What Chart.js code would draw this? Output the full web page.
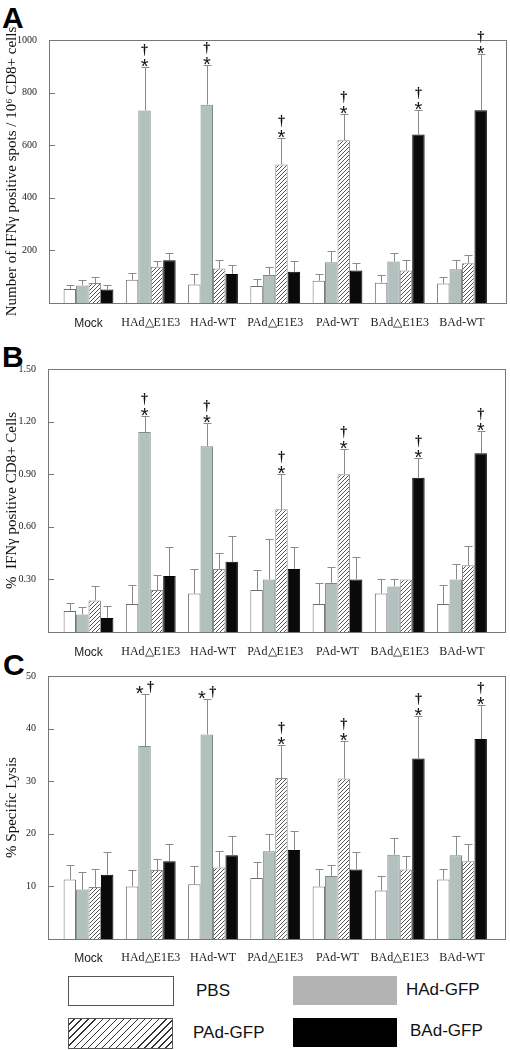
<!DOCTYPE html>
<html>
<head>
<meta charset="utf-8">
<script src="https://cdn.jsdelivr.net/npm/chart.js@4.4.1/dist/chart.umd.min.js"></script>
<style>
  body { margin: 0; width: 510px; height: 1050px; position: relative; background: #fff; overflow: hidden; }
  canvas { position: absolute; left: 0; }
  .letter { position: absolute; font: bold 30px 'Liberation Sans', Arial, sans-serif; line-height: 30px; color: #000; }
  .key { position: absolute; box-sizing: border-box; }
  .keyText { position: absolute; font: 17px 'Liberation Sans', Arial, sans-serif; line-height: 20px; color: #111; }
</style>
</head>
<body>
<div class="letter" style="left:2px; top:3px;">A</div>
<div class="letter" style="left:2px; top:342px;">B</div>
<div class="letter" style="left:3px; top:650px;">C</div>

<canvas id="chartA" width="510" height="340" style="top:0px"></canvas>
<canvas id="chartB" width="510" height="325" style="top:340px"></canvas>
<canvas id="chartC" width="510" height="305" style="top:665px"></canvas>

<div class="key" style="left:68px; top:976px; width:106px; height:30px; border:1px solid #555; background:#fff;"></div>
<div class="keyText" style="left:196px; top:981px;">PBS</div>
<div class="key" style="left:293px; top:976px; width:104px; height:29px; background:#b3b3b3;"></div>
<div class="keyText" style="left:406px; top:980px;">HAd-GFP</div>
<div class="key" style="left:68px; top:1018px; width:105px; height:31px; border:1px solid #555;
  background: repeating-linear-gradient(-45deg, #fff 0px, #fff 4px, #333 4px, #333 5px);"></div>
<div class="keyText" style="left:193px; top:1023px;">PAd-GFP</div>
<div class="key" style="left:293px; top:1018px; width:104px; height:29px; background:#000;"></div>
<div class="keyText" style="left:410px; top:1021px;">BAd-GFP</div>

<script>
// Groups and virus series
const categories = ['Mock', 'HAd△E1E3', 'HAd-WT', 'PAd△E1E3', 'PAd-WT', 'BAd△E1E3', 'BAd-WT'];
const seriesNames = ['PBS', 'HAd-GFP', 'PAd-GFP', 'BAd-GFP'];

// Panel A: IFN-gamma spots per 10^6 CD8+ cells (mean, sd)
const spotsPBS = [53, 88, 70, 65, 85, 77, 74];
const spotsHAd = [67, 732, 754, 106, 155, 158, 128];
const spotsPAd = [76, 138, 131, 527, 619, 124, 151];
const spotsBAd = [51, 163, 110, 119, 124, 641, 733];
const spotsPBSsd = [17, 27, 39, 26, 24, 28, 26];
const spotsHAdsd = [19, 166, 150, 30, 44, 34, 35];
const spotsPAdsd = [23, 20, 33, 99, 98, 41, 31];
const spotsBAdsd = [16, 29, 34, 41, 27, 94, 212];
const ticksA = [200, 400, 600, 800, 1000];

// Panel B: % IFN-gamma positive CD8+ cells
const pctPBS = [0.12, 0.16, 0.22, 0.24, 0.16, 0.22, 0.16];
const pctHAd = [0.10, 1.14, 1.06, 0.30, 0.28, 0.26, 0.30];
const pctPAd = [0.18, 0.24, 0.36, 0.70, 0.90, 0.30, 0.38];
const pctBAd = [0.08, 0.32, 0.40, 0.36, 0.30, 0.88, 1.02];
const pctPBSsd = [0.045, 0.108, 0.141, 0.111, 0.121, 0.082, 0.106];
const pctHAdsd = [0.042, 0.09, 0.13, 0.23, 0.088, 0.042, 0.089];
const pctPAdsd = [0.082, 0.087, 0.09, 0.20, 0.145, 0, 0.11];
const pctBAdsd = [0.068, 0.165, 0.15, 0.125, 0.13, 0.115, 0.125];
const ticksB = [0.30, 0.60, 0.90, 1.20, 1.50];

// Panel C: % specific lysis
const lysisPBS = [11.3, 10.0, 10.4, 11.6, 10.0, 9.2, 11.3];
const lysisHAd = [9.4, 36.7, 38.9, 16.7, 12.0, 16.0, 15.9];
const lysisPAd = [9.9, 13.1, 13.6, 30.6, 30.5, 13.2, 14.8];
const lysisBAd = [12.2, 14.8, 15.9, 16.9, 13.2, 34.3, 38.0];
const lysisPBSsd = [2.7, 3.1, 3.4, 3.0, 3.4, 2.8, 2.1];
const lysisHAdsd = [3.3, 9.8, 6.7, 3.3, 2.1, 3.2, 3.7];
const lysisPAdsd = [3.4, 2.1, 3.1, 6.3, 7.2, 2.5, 3.3];
const lysisBAdsd = [4.4, 3.3, 3.7, 3.6, 3.4, 8.1, 6.4];
const ticksC = [10, 20, 30, 40, 50];

// Significance marks: [group, series, side-by-side]
const sigMarks = [[1, 1, false], [2, 1, false], [3, 2, false], [4, 2, false], [5, 3, false], [6, 3, false]];
const sigMarksC = [[1, 1, true], [2, 1, true], [3, 2, false], [4, 2, false], [5, 3, false], [6, 3, false]];

const serif = "'Liberation Serif', 'Times New Roman', serif";
const sans = "'Liberation Sans', Arial, sans-serif";

// Diagonal hatch for the PAd-GFP bars
const makeHatch = () => {
  const tile = document.createElement('canvas');
  tile.width = 4; tile.height = 4;
  const t = tile.getContext('2d');
  t.fillStyle = '#fff';
  t.fillRect(0, 0, 4, 4);
  t.strokeStyle = '#555';
  t.lineWidth = 1;
  t.beginPath();
  t.moveTo(0, 4); t.lineTo(4, 0);
  t.moveTo(-1, 1); t.lineTo(1, -1);
  t.moveTo(3, 5); t.lineTo(5, 3);
  t.stroke();
  return t.createPattern(tile, 'repeat');
};

const fills = ['#ffffff', '#b3c1be', makeHatch(), '#0a0a0a'];
const borders = ['#6e6e6e', '#7d8a87', '#8a8a8a', '#000000'];

// Frame, inward ticks, error whiskers and significance marks
const panelExtras = {
  id: 'panelExtras',
  beforeDatasetsDraw(chart) {
    const { ctx, chartArea: a, scales: { y } } = chart;
    ctx.save();
    ctx.strokeStyle = '#777';
    ctx.lineWidth = 1;
    ctx.strokeRect(a.left + 0.5, a.top + 0.5, a.right - a.left - 1, a.bottom - a.top);
    ctx.beginPath();
    y.ticks.forEach(t => {
      const py = Math.round(y.getPixelForValue(t.value)) + 0.5;
      ctx.moveTo(a.left, py);
      ctx.lineTo(a.left + 6, py);
    });
    ctx.stroke();
    ctx.restore();
  },
  afterDatasetsDraw(chart, args, opts) {
    const { ctx, scales: { y } } = chart;
    ctx.save();
    ctx.strokeStyle = '#8a8a8a';
    ctx.lineWidth = 1;
    chart.data.datasets.forEach((ds, k) => {
      chart.getDatasetMeta(k).data.forEach((bar, i) => {
        const sd = opts.errors[k][i];
        if (!sd) return;
        const x = Math.round(bar.x) + 0.5;
        const top = Math.round(y.getPixelForValue(ds.data[i].y + sd)) + 0.5;
        ctx.beginPath();
        ctx.moveTo(x, bar.y);
        ctx.lineTo(x, top);
        ctx.moveTo(x - 4, top);
        ctx.lineTo(x + 4, top);
        ctx.stroke();
      });
    });

    ctx.fillStyle = '#111';
    ctx.textAlign = 'center';
    ctx.textBaseline = 'alphabetic';
    opts.marks.forEach(([i, k, side]) => {
      const bar = chart.getDatasetMeta(k).data[i];
      const cap = y.getPixelForValue(chart.data.datasets[k].data[i].y + opts.errors[k][i]);
      if (side) {
        ctx.font = '20px ' + sans;
        ctx.fillText('*', bar.x - 5, cap + 6);
        ctx.font = 'bold 14px ' + serif;
        ctx.fillText('†', bar.x + 6, cap - 3);
      } else {
        ctx.font = '20px ' + sans;
        ctx.fillText('*', bar.x, cap + 6);
        ctx.font = 'bold 14px ' + serif;
        ctx.fillText('†', bar.x, cap - 13);
      }
    });
    ctx.restore();
  }
};

const makePanel = (canvasId, o) => {
  const ctx = document.getElementById(canvasId).getContext('2d');
  return new Chart(ctx, {
    type: 'bar',
    data: {
      datasets: o.means.map((m, k) => ({
        label: seriesNames[k],
        data: m.map((v, i) => ({ x: i, y: v })),
        backgroundColor: fills[k],
        borderColor: borders[k],
        borderWidth: 1,
        categoryPercentage: 0.8,
        barPercentage: 1.0
      }))
    },
    options: {
      responsive: false,
      animation: false,
      layout: { padding: { top: o.top, right: 510 - o.right, left: 0, bottom: 0 } },
      plugins: {
        legend: { display: false },
        tooltip: { enabled: false },
        panelExtras: { errors: o.errors, marks: o.marks }
      },
      scales: {
        x: {
          type: 'linear',
          offset: false,
          min: -(88.5 - o.left) / 62.25,
          max: 6 + (o.right - 462) / 62.25,
          grid: { display: false },
          border: { display: false },
          afterBuildTicks: s => { s.ticks = categories.map((c, i) => ({ value: i })); },
          afterFit: s => { s.height = o.axisH; },
          ticks: {
            padding: o.labelPad,
            autoSkip: false,
            maxRotation: 0,
            color: '#222',
            font: c => ({ family: c.index === 0 ? sans : serif, size: 12 }),
            callback: v => categories[v]
          }
        },
        y: {
          min: 0,
          max: o.max,
          grid: { display: false },
          border: { display: false },
          afterBuildTicks: s => { s.ticks = o.ticks.map(v => ({ value: v })); },
          afterFit: s => { s.width = o.left; },
          ticks: {
            padding: 4,
            color: '#222',
            font: { family: serif, size: 10 },
            callback: o.fmt
          },
          title: {
            display: true,
            text: o.title,
            color: '#111',
            font: { family: serif, size: 15 },
            padding: { top: 3, bottom: 0 }
          }
        }
      }
    },
    plugins: [panelExtras]
  });
};

makePanel('chartA', {
  means: [spotsPBS, spotsHAd, spotsPAd, spotsBAd],
  errors: [spotsPBSsd, spotsHAdsd, spotsPAdsd, spotsBAdsd],
  marks: sigMarks,
  ticks: ticksA, max: 1000, fmt: v => String(v),
  title: 'Number of IFNγ positive spots / 10⁶ CD8+ cells',
  top: 40, left: 49, right: 507, axisH: 37, labelPad: 5
});

makePanel('chartB', {
  means: [pctPBS, pctHAd, pctPAd, pctBAd],
  errors: [pctPBSsd, pctHAdsd, pctPAdsd, pctBAdsd],
  marks: sigMarks,
  ticks: ticksB, max: 1.5, fmt: v => v.toFixed(2),
  title: '%  IFNγ positive CD8+ Cells',
  top: 29, left: 48, right: 506, axisH: 33, labelPad: 5
});

makePanel('chartC', {
  means: [lysisPBS, lysisHAd, lysisPAd, lysisBAd],
  errors: [lysisPBSsd, lysisHAdsd, lysisPAdsd, lysisBAdsd],
  marks: sigMarksC,
  ticks: ticksC, max: 50, fmt: v => String(v),
  title: '% Specific Lysis',
  top: 11, left: 48, right: 506, axisH: 31, labelPad: 4
});
</script>
</body>
</html>
